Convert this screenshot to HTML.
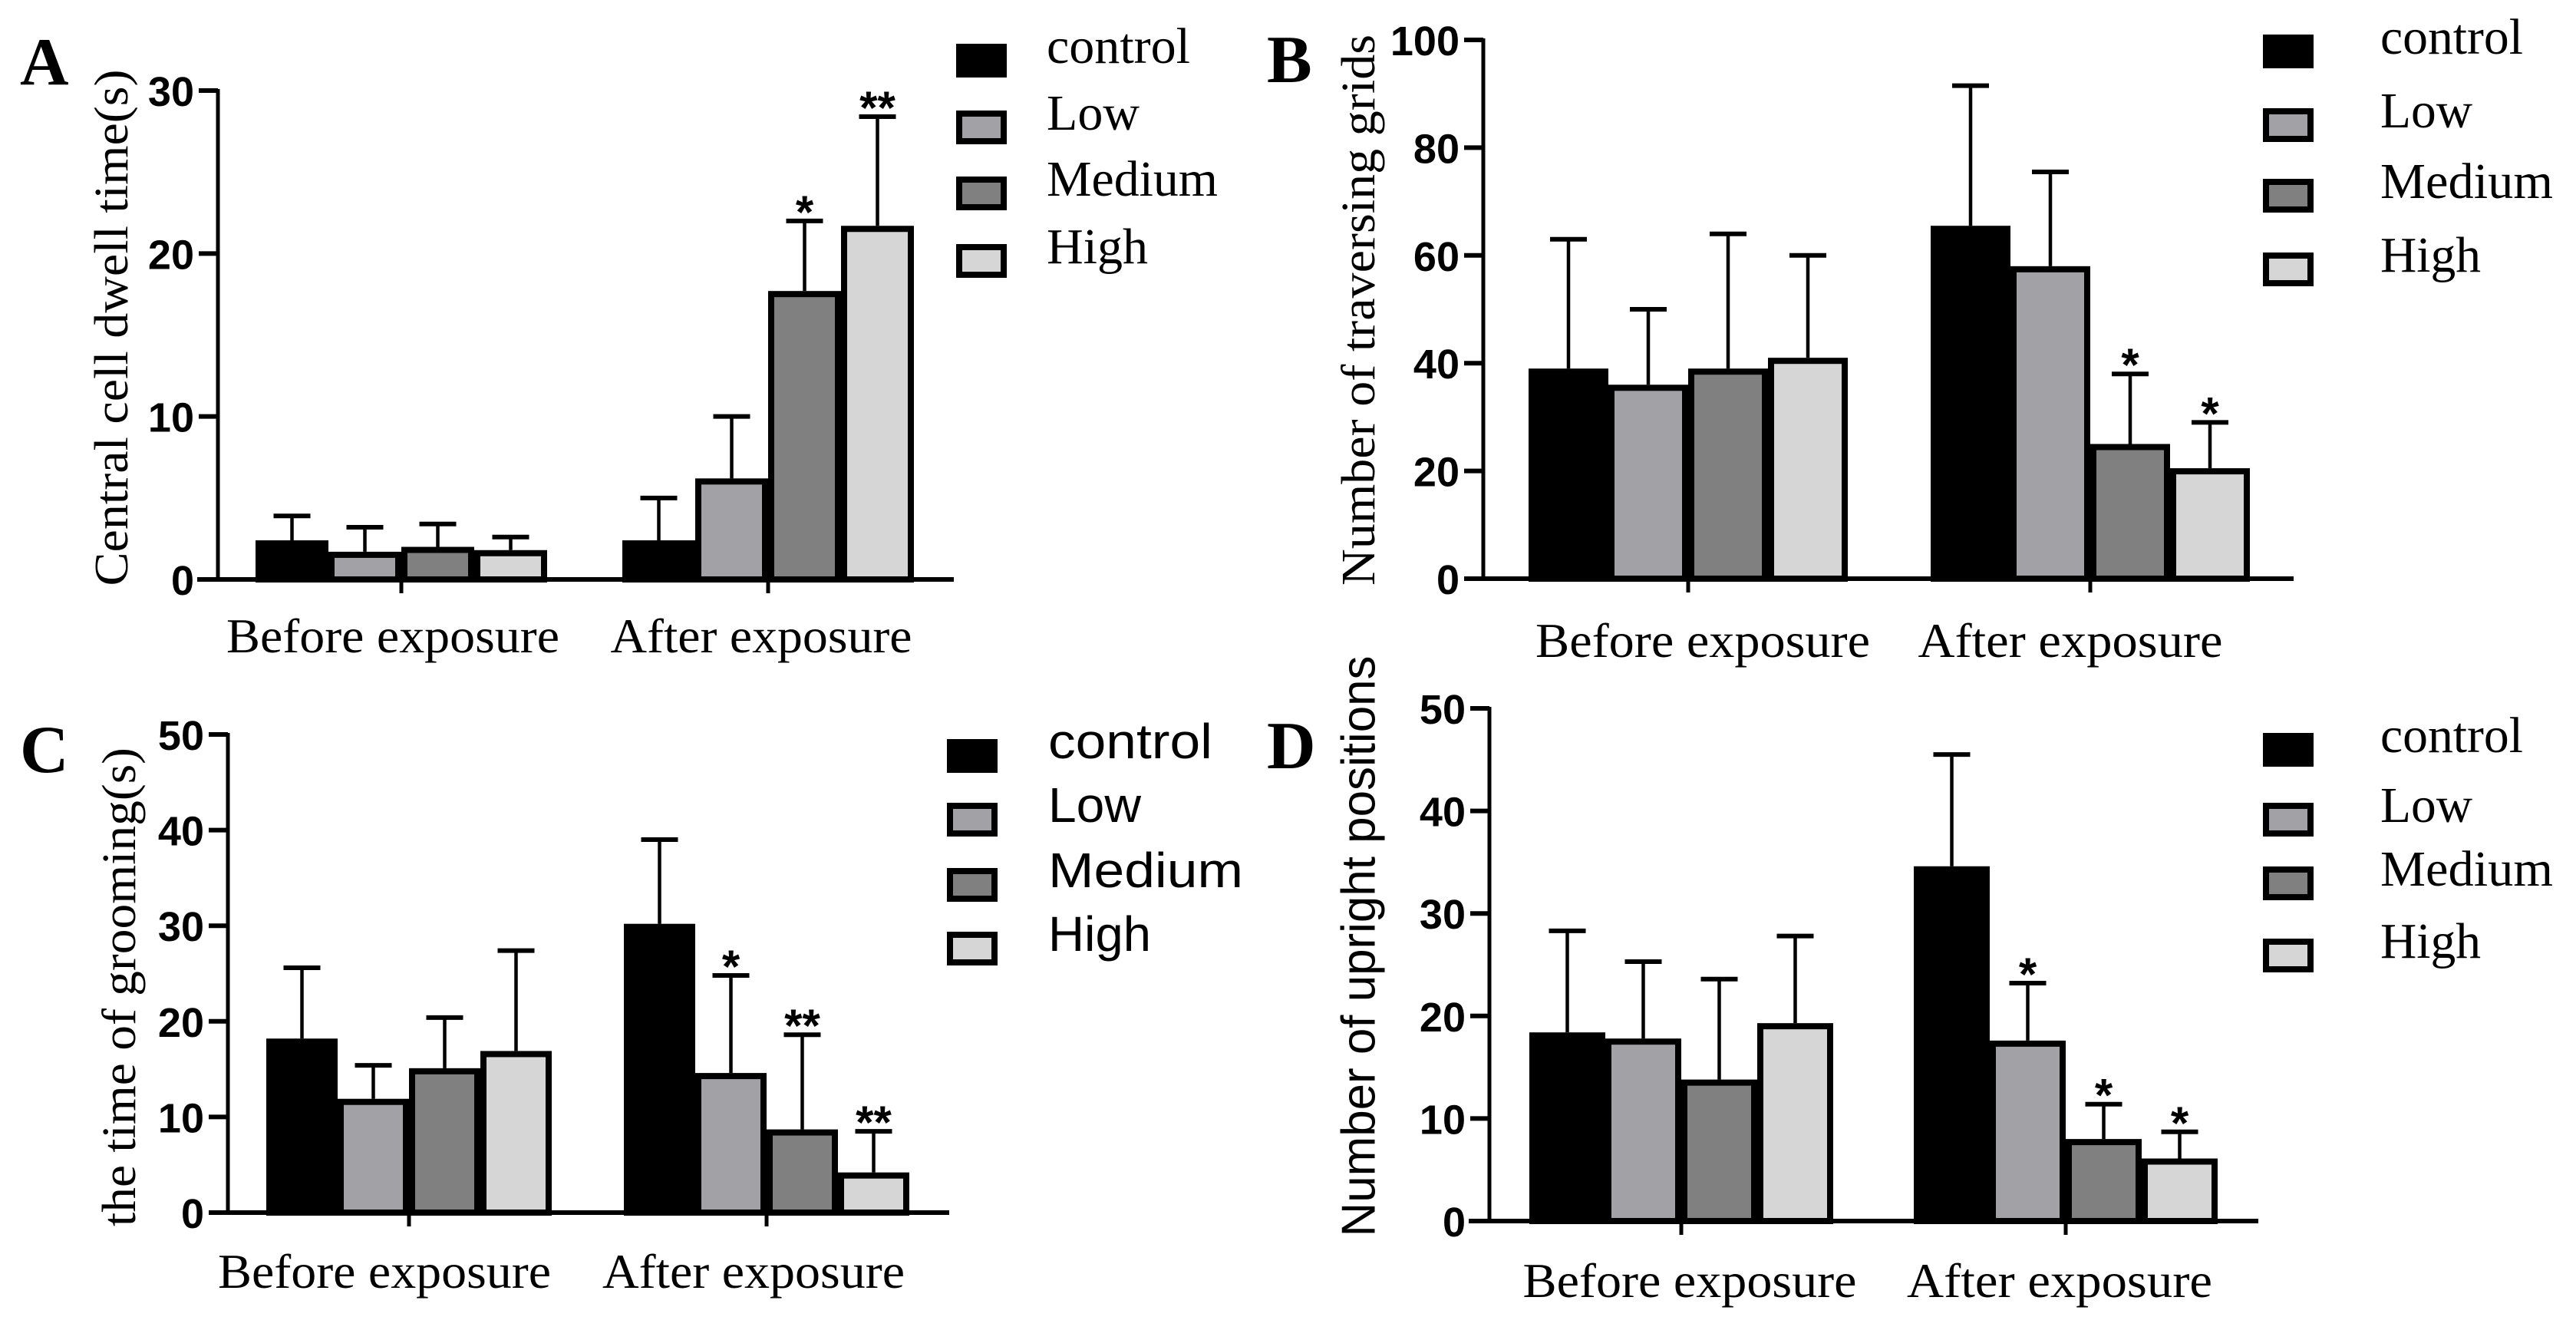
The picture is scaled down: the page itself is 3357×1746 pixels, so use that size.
<!DOCTYPE html>
<html><head><meta charset="utf-8">
<style>
html,body{margin:0;padding:0;background:#fff;}
svg{display:block;}
.serif{font-family:"Liberation Serif",serif;}
.sans{font-family:"Liberation Sans",sans-serif;}
.tick{font-family:"Liberation Sans Narrow","Liberation Sans",sans-serif;font-weight:bold;}
</style></head>
<body>
<svg id="fig" width="3357" height="1746" viewBox="0 0 3357 1746" xmlns="http://www.w3.org/2000/svg"></svg>
<script>
// ---- data ----
const categories = ["Before exposure", "After exposure"];
const seriesNames = ["control", "Low", "Medium", "High"];
const seriesFills = ["#000000", "#a2a2a6", "#808080", "#d6d6d6"];

const aTicks = ["0", "10", "20", "30"];
const aBefore = [2.4, 1.7, 2.0, 1.8];
const aBeforeErr = [3.9, 3.2, 3.4, 2.6];
const aAfter = [2.4, 6.2, 17.7, 21.7];
const aAfterErr = [5.0, 10.0, 22.0, 28.4];
const aSig = ["", "", "*", "**"];

const bTicks = ["0", "20", "40", "60", "80", "100"];
const bBefore = [39, 36, 39, 41];
const bBeforeErr = [63, 50, 64, 60];
const bAfter = [65.5, 58, 25, 20.5];
const bAfterErr = [91.5, 75.5, 38, 29];
const bSig = ["", "", "*", "*"];

const cTicks = ["0", "10", "20", "30", "40", "50"];
const cBefore = [18.2, 11.9, 15.1, 16.9];
const cBeforeErr = [25.6, 15.4, 20.4, 27.4];
const cAfter = [30.2, 14.6, 8.7, 4.2];
const cAfterErr = [39.0, 24.8, 18.6, 8.5];
const cSig = ["", "*", "**", "**"];

const dTicks = ["0", "10", "20", "30", "40", "50"];
const dBefore = [18.4, 17.8, 13.8, 19.3];
const dBeforeErr = [28.3, 25.3, 23.6, 27.8];
const dAfter = [34.6, 17.6, 8.0, 6.1];
const dAfterErr = [45.5, 23.2, 11.4, 8.7];
const dSig = ["", "*", "*", "*"];

// ---- drawing ----
const NS = "http://www.w3.org/2000/svg";
const svg = document.getElementById("fig");
function mk(tag, attrs, parent) {
  const e = document.createElementNS(NS, tag);
  for (const k in attrs) e.setAttribute(k, attrs[k]);
  (parent || svg).appendChild(e);
  return e;
}

function panel(p) {
  const g = mk("g", {});
  
  
  const y = v => p.y0 - (v / p.maxV) * (p.y0 - p.yTop);

  const L = mk("text", {x: p.letterX, y: p.letterY, class: "serif", "font-size": 88, "font-weight": "bold"}, g);
  L.textContent = p.id.toUpperCase();
  
  

  const T = mk("text", {x: 0, y: 0, class: p.titleSans ? "sans" : "serif", "font-size": 62,
    "text-anchor": "middle", "dominant-baseline": "central",
    textLength: p.titleLen, lengthAdjust: "spacingAndGlyphs",
    transform: "translate(" + p.titleX + "," + p.titleY + ") rotate(-90)"}, g);
  T.textContent = p.title;
  
  

  const ax = mk("line", {x1: p.axisX, x2: p.axisX, y1: p.yTop - 2, y2: p.y0, stroke: "#000", "stroke-width": 5}, g);
  
  
  p.ticks.forEach((t, i) => {
    const v = parseFloat(t);
    const ty = y(v);
    const tl = mk("line", {x1: p.axisX - 25, x2: p.axisX, y1: ty, y2: ty, stroke: "#000", "stroke-width": 6}, g);
    
    
    const tt = mk("text", {x: p.axisX - 31, y: ty + 20, class: "tick", "font-size": 54, "text-anchor": "end"}, g);
    tt.textContent = t;
    
    
  });

  const groups = [[p.before, p.beforeErr, ["", "", "", ""]], [p.after, p.afterErr, p.sig]];
  groups.forEach((grp, gi) => {
    const cx = p.groupX[gi];
    grp[0].forEach((v, si) => {
      const bx = cx + (si - 2) * p.bw;
      const top = y(v);
      const eTop = y(grp[1][si]);
      const mx = bx + p.bw / 2;
      const el = mk("line", {x1: mx, x2: mx, y1: eTop, y2: top, stroke: "#000", "stroke-width": 4.5}, g);
      
      
      const cap = mk("line", {x1: mx - 24, x2: mx + 24, y1: eTop, y2: eTop, stroke: "#000", "stroke-width": 6}, g);
      
      
      const r = mk("rect", {x: bx + 4, y: top + 4, width: p.bw - 8, height: Math.max(0, p.y0 - top - 4),
        fill: seriesFills[si], stroke: "#000", "stroke-width": 8}, g);
      
      
      if (grp[2][si]) {
        const s = mk("text", {x: mx, y: eTop + 9, class: "sans", "font-size": 60, "font-weight": "bold", "text-anchor": "middle"}, g);
        s.textContent = grp[2][si];
        
        
      }
    });
    const gt = mk("line", {x1: cx, x2: cx, y1: p.y0, y2: p.y0 + 18, stroke: "#000", "stroke-width": 5}, g);
    
    
    const xl = mk("text", {x: p.catX[gi], y: p.catY, class: "serif", "font-size": 64, "text-anchor": "middle",
      textLength: p.catLen[gi], lengthAdjust: "spacingAndGlyphs"}, g);
    xl.textContent = categories[gi];
    
    
  });

  const xa = mk("line", {x1: p.xStart, x2: p.xEnd, y1: p.y0, y2: p.y0, stroke: "#000", "stroke-width": 6}, g);
  
  

  seriesNames.forEach((n, i) => {
    const ly = p.legY[i];
    const lg = mk("g", {}, g);
    
    
    mk("rect", {x: p.legX + 4, y: ly - 18, width: 58, height: 36, fill: seriesFills[i], stroke: "#000", "stroke-width": 8}, lg);
    const t = mk("text", {x: p.legTX, y: ly + 3, class: p.legSans ? "sans" : "serif", "font-size": p.legSans ? 64 : 66,
      textLength: p.legLen[i], lengthAdjust: "spacingAndGlyphs"}, lg);
    t.textContent = n;
  });
}

panel({id: "a", title: "Central cell dwell time(s)", titleX: 146, titleY: 427, titleLen: 673,
  letterX: 26, letterY: 110, ticks: aTicks, maxV: 30, y0: 755, yTop: 118, axisX: 284,
  xStart: 257, xEnd: 1243, groupX: [523, 1001], bw: 95,
  before: aBefore, beforeErr: aBeforeErr, after: aAfter, afterErr: aAfterErr, sig: aSig,
  catX: [512, 992], catY: 850, catLen: [434, 393],
  legX: 1246, legTX: 1364, legY: [79, 166, 252, 340], legLen: [187, 121, 223, 132]});

panel({id: "b", title: "Number of traversing grids", titleX: 1771, titleY: 404, titleLen: 718,
  letterX: 1651, letterY: 107, ticks: bTicks, maxV: 100, y0: 754, yTop: 52, axisX: 1933,
  xStart: 1908, xEnd: 2989, groupX: [2200, 2724], bw: 104,
  before: bBefore, beforeErr: bBeforeErr, after: bAfter, afterErr: bAfterErr, sig: bSig,
  catX: [2219, 2698], catY: 856, catLen: [436, 397],
  legX: 2949, legTX: 3102, legY: [67, 163, 255, 351], legLen: [186, 120, 225, 131]});

panel({id: "c", title: "the time of grooming(s)", titleX: 156, titleY: 1286, titleLen: 624,
  letterX: 26, letterY: 1006, ticks: cTicks, maxV: 50, y0: 1580, yTop: 957, axisX: 297,
  xStart: 276, xEnd: 1237, groupX: [533, 999], bw: 93,
  before: cBefore, beforeErr: cBeforeErr, after: cAfter, afterErr: cAfterErr, sig: cSig,
  catX: [501, 982], catY: 1678, catLen: [434, 394],
  legX: 1234, legTX: 1366, legY: [985, 1068, 1153, 1236], legLen: [214, 121, 254, 134], legSans: true});

panel({id: "d", title: "Number of upright positions", titleX: 1771, titleY: 1233, titleLen: 757, titleSans: true,
  letterX: 1651, letterY: 1001, ticks: dTicks, maxV: 50, y0: 1591, yTop: 923, axisX: 1941,
  xStart: 1914, xEnd: 2943, groupX: [2191, 2692], bw: 99,
  before: dBefore, beforeErr: dBeforeErr, after: dAfter, afterErr: dAfterErr, sig: dSig,
  catX: [2202, 2684], catY: 1690, catLen: [435, 398],
  legX: 2949, legTX: 3102, legY: [977, 1068, 1151, 1245], legLen: [186, 120, 225, 131]});
</script>
</body></html>
